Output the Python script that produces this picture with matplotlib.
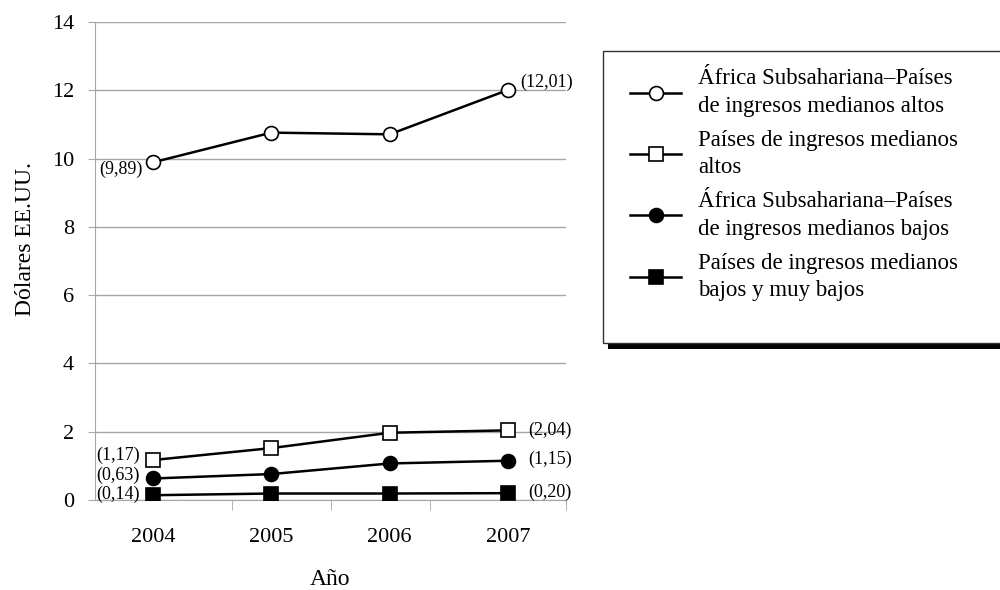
import matplotlib
matplotlib.use("Agg")
import matplotlib.pyplot as plt
from matplotlib.patches import Rectangle

plt.rcParams["font.family"] = ["Liberation Serif", "DejaVu Serif"]

years = ["2004", "2005", "2006", "2007"]
ssa_upper_middle = [9.89, 10.76, 10.71, 12.01]
upper_middle = [1.17, 1.52, 1.97, 2.04]
ssa_lower_middle = [0.63, 0.76, 1.07, 1.15]
lower_low = [0.14, 0.19, 0.19, 0.20]
series_names = [
    "África Subsahariana–Países\nde ingresos medianos altos",
    "Países de ingresos medianos\naltos",
    "África Subsahariana–Países\nde ingresos medianos bajos",
    "Países de ingresos medianos\nbajos y muy bajos",
]
y_ticks = [0, 2, 4, 6, 8, 10, 12, 14]

GRID = "#a6a6a6"

fig = plt.figure(figsize=(10, 5.9), dpi=100)
ax = fig.add_axes([0.095, 1 - 500 / 590, 0.471, 478 / 590])

x = list(range(len(years)))
styles = [
    dict(marker="o", markerfacecolor="white", markersize=10),
    dict(marker="s", markerfacecolor="white", markersize=10.5),
    dict(marker="o", markerfacecolor="black", markersize=10),
    dict(marker="s", markerfacecolor="black", markersize=10),
]
all_series = [ssa_upper_middle, upper_middle, ssa_lower_middle, lower_low]
handles = []
for vals, st, name in zip(all_series, styles, series_names):
    (h,) = ax.plot(x, vals, color="black", linewidth=1.8, markeredgecolor="black",
                   markeredgewidth=1.2, label=name, zorder=3, **st)
    handles.append(h)

# end-point labels: (series, index, offset px, ha)
label_spots = [
    (ssa_upper_middle, 0, (-10, -7), "right"),
    (ssa_upper_middle, 3, (12, 8), "left"),
    (upper_middle, 0, (-13, 5), "right"),
    (ssa_lower_middle, 0, (-13, 3), "right"),
    (lower_low, 0, (-13, 1), "right"),
    (upper_middle, 3, (20, 0), "left"),
    (ssa_lower_middle, 3, (20, 1), "left"),
    (lower_low, 3, (20, 1), "left"),
]
for vals, i, off, ha in label_spots:
    txt = "(" + f"{vals[i]:.2f}".replace(".", ",") + ")"
    ax.annotate(txt, (x[i], vals[i]), xytext=off, textcoords="offset pixels",
                ha=ha, va="center", fontsize=13)

ax.set_xlim(-0.49, 3.49)
ax.set_ylim(0, 14)
ax.set_yticks(y_ticks)
ax.set_xticks(x)
ax.set_xticklabels(years)
ax.set_xticks([0.668, 1.504, 2.34, 3.49], minor=True)
ax.tick_params(axis="x", which="major", length=0, pad=20, labelsize=16)
ax.tick_params(axis="x", which="minor", length=7, color=GRID, direction="out")
ax.tick_params(axis="y", length=5, color=GRID, pad=10, labelsize=16)

ax.grid(axis="y", color=GRID, linewidth=1)
ax.set_axisbelow(True)
for side in ["top", "right"]:
    ax.spines[side].set_visible(False)
for side in ["left", "bottom"]:
    ax.spines[side].set_color(GRID)

ax.set_xlabel("Año", fontsize=17)
ax.xaxis.set_label_coords(0.5, -0.145)
ax.set_ylabel("Dólares EE.UU.", fontsize=17)
ax.yaxis.set_label_coords(-0.126, 0.546)

# legend box with heavy shadow
fig.patches.append(Rectangle((608 / 1000, 1 - 349 / 590), 0.4, 7 / 590,
                             transform=fig.transFigure, facecolor="black",
                             edgecolor="none", zorder=0))
fig.patches.append(Rectangle((603 / 1000, 1 - 343 / 590), 0.4, 292 / 590,
                             transform=fig.transFigure, facecolor="white",
                             edgecolor="#333333", linewidth=1, zorder=1))

leg = fig.legend(handles=handles, loc="upper left", bbox_to_anchor=(612 / 1000, 1 - 50 / 590),
                 frameon=False, fontsize=16.5, handlelength=2.2, handletextpad=0.75,
                 labelspacing=0.57, borderpad=0.3)
for t in leg.get_texts():
    t.set_linespacing(1.4)

fig.savefig("out.png", dpi=100)
